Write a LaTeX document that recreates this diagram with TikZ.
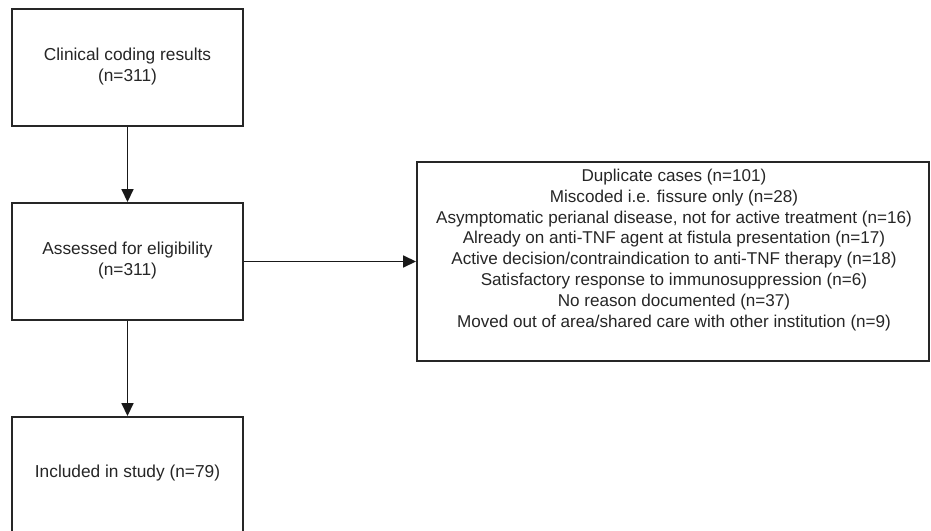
\documentclass[tikz,border=0pt]{standalone}
\usepackage{fontspec}
\setmainfont{Liberation Sans}
\usetikzlibrary{arrows.meta}
\begin{document}
\begin{tikzpicture}[x=1pt,y=-1pt,
  flowbox/.style={draw=black!85,line width=1.9pt,minimum width=231pt,inner sep=0pt},
  flowtext/.style={align=center,font=\fontsize{17.3}{21.5}\selectfont,text=black!85},
  arr/.style={draw=black!90,line width=1.6pt,-{Triangle[length=13pt,width=12pt]}}]
\useasboundingbox (0,0) rectangle (931,530);
\clip (0,0) rectangle (931,530);
\fill[white] (0,0) rectangle (931,530);
\node[flowbox,minimum height=117pt] (b1) at (127.5,67.5) {};
\node[flowtext] (t1) at (127.5,66.5) {Clinical coding results\\(n=311)};
\node[flowbox,minimum height=117pt] (b2) at (127.5,261.5) {};
\node[flowtext] (t2) at (127.5,260.5) {Assessed for eligibility\\(n=311)};
\node[flowbox,minimum height=116pt] (b3) at (127.5,475) {};
\node[flowtext] (t3) at (127.5,473) {Included in study (n=79)};
\node[flowbox,minimum width=512pt,minimum height=199pt] (ex) at (673,261.5) {};
\node[flowtext,font=\fontsize{17.1}{20.9}\selectfont] (tex) at (674,250) {Duplicate cases (n=101)\\
Miscoded i.e. fissure only (n=28)\\
Asymptomatic perianal disease, not for active treatment (n=16)\\
Already on anti-TNF agent at fistula presentation (n=17)\\
Active decision/contraindication to anti-TNF therapy (n=18)\\
Satisfactory response to immunosuppression (n=6)\\
No reason documented (n=37)\\
Moved out of area/shared care with other institution (n=9)};
\draw[arr] (b1.south) -- (b2.north);
\draw[arr] (b2.south) -- (b3.north);
\draw[arr] (b2.east) -- (ex.west);
\end{tikzpicture}
\end{document}
